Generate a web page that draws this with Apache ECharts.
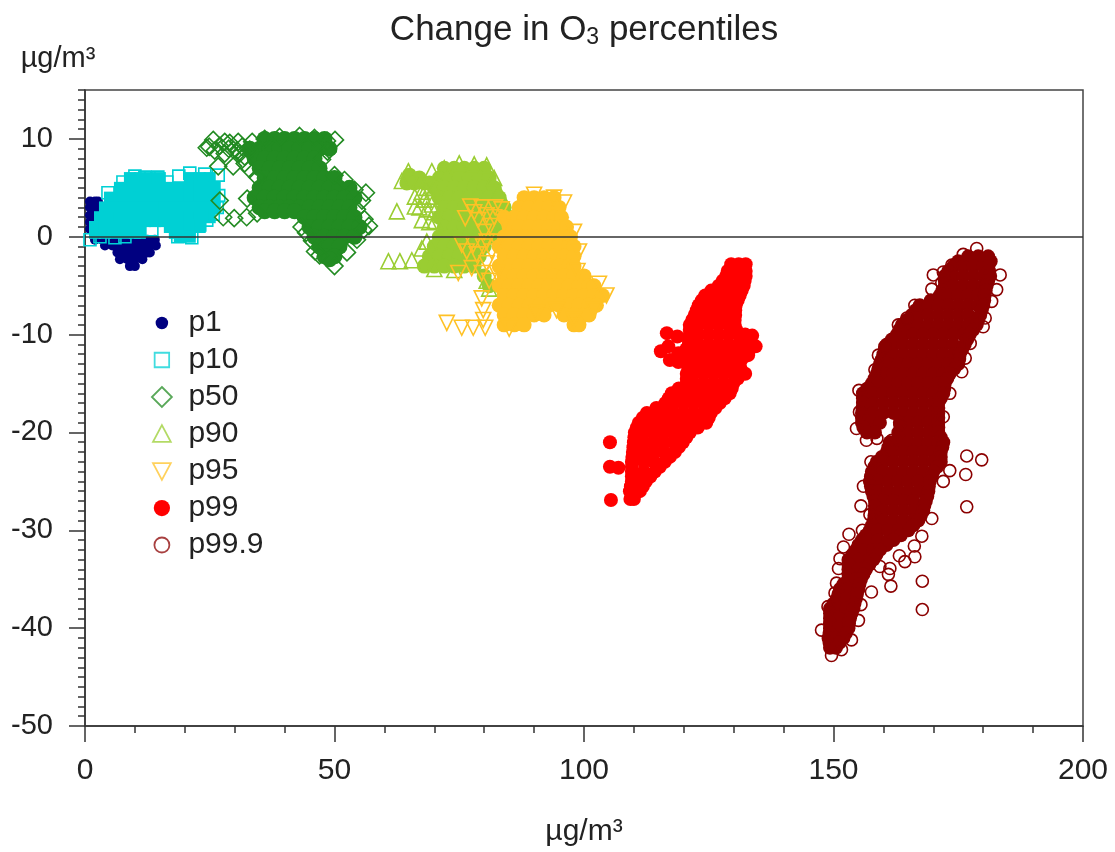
<!DOCTYPE html>
<html>
<head>
<meta charset="utf-8">
<title>Change in O3 percentiles</title>
<script src="https://cdn.jsdelivr.net/npm/echarts@6/dist/echarts.min.js"></script>
<style>
  html, body { margin: 0; padding: 0; background: #fff; }
  #chart { width: 1115px; height: 852px; filter: blur(0.5px); }
</style>
</head>
<body>
<div id="chart"></div>
<script>
// values; the solid parts of each cloud are listed as rows [y, [x, x, ...]]
const yTickValues = [-50, -40, -30, -20, -10, 0, 10];

const p1Rows = [
  [3.6, [1, 2, 2.6]], [3, [1, 2, 3]], [2.2, [1, 2]], [1.5, [1, 1.5]], [0.8, [1]],
  [-0.3, [2, 3.5, 5, 6.5, 8, 9.5, 11, 12.5, 14]],
  [-0.9, [4, 5.5, 7, 8.5, 10, 11.5, 13, 14.2]],
  [-1.6, [6.5, 8, 9.5, 11, 12.5, 13]],
  [-2.3, [7, 8.5, 10, 11.5]],
  [-3, [9, 10]]
];

const p10Rows = [
  [6, [9, 11, 13, 15, 21, 23, 25]],
  [5, [7, 9, 11, 13, 15, 17, 19, 21, 23, 25, 26]],
  [4, [5, 7, 9, 11, 13, 15, 17, 19, 21, 23, 25, 26]],
  [3, [4, 6, 8, 10, 12, 14, 16, 18, 20, 22, 24, 26]],
  [2, [3, 5, 7, 9, 11, 13, 15, 17, 19, 21, 23, 25]],
  [1.6, [12, 14, 16]],
  [1, [2, 4, 6, 8, 10, 11, 17, 19, 21, 23]],
  [0.4, [2, 4, 6, 8, 10, 11, 18, 20, 21]],
  [0, [19, 21]]
];
const p10Edge = [
  [7.6, 5.6], [4.6, 4.5], [14.6, 6.1], [16.4, 5.6], [26.7, 6.3], [21.4, -0.1], [1, -0.3], [24.4, 1.7],
  [18.6, 0], [10, 6.2], [12, 6.1], [18.8, 6.2], [21, 6.5], [24, 6.4], [13.4, 0.7],
  [6, -0.1], [3, 0], [8, 0], [26.8, 4.2], [26.5, 3], [25.7, 2.3], [23, 1.2]
];

const p50Rows = [
  [10, [36, 38, 40, 42, 44, 46, 48]],
  [9, [33, 35, 37, 39, 41, 43, 45, 47, 49]],
  [8, [34, 36, 38, 40, 42, 44, 46]],
  [7, [35, 37, 39, 41, 43, 45, 47]],
  [6, [36, 38, 40, 42, 44, 46, 48, 50]],
  [5, [35, 37, 39, 41, 43, 45, 47, 49, 51, 53]],
  [4, [34, 36, 38, 40, 42, 44, 46, 48, 50, 52, 54]],
  [3, [35, 37, 39, 41, 43, 45, 47, 49, 51, 53]],
  [2.6, [36, 38, 40, 42]],
  [2, [44, 46, 48, 50, 52, 54]],
  [1, [45, 47, 49, 51, 53, 55]],
  [0, [46, 48, 50, 52, 54]],
  [-1, [47, 49, 51]],
  [-2, [48, 50]],
  [-2.3, [49]]
];
const p50Edge = [
  [24.4, 9.1], [25.7, 9.9], [28, 9.7], [30.7, 9.7], [29.7, 8.9], [32, 8.2], [26.7, 7.2], [29.7, 7.2],
  [32, 7.5], [27, 3.7], [27.7, 2], [29.9, 1.9], [32.4, 2], [32.5, 3.9], [34.5, 2.4], [50.1, 9.9],
  [56.3, 4.5], [56.9, 1.1], [46.1, -1.5], [43.4, 1], [24.9, 9.2], [27, 9.3], [28.8, 9], [30.5, 8.8],
  [31.5, 9.2], [29, 9.6], [33.5, 9.7], [36, 10], [39, 10.2], [43, 10.3], [46, 10.1], [48.5, 9.8],
  [48.6, 8.7], [47.5, 7.9], [50, 6.3], [52, 5.8], [54, 4.8], [55.5, 3.7], [54.5, 2.8], [56, 1.8],
  [55.8, 0.7], [54.5, -0.3], [52.5, -1.6], [50, -3], [47, -1.9], [45.5, -0.4], [44.3, 0.4], [34.5, 6.1],
  [26, 8.8], [28, 8.5], [31, 8.5], [33, 8.9], [33, 6.9]
];

const p90Rows = [
  [7, [72, 74, 76, 78, 80]],
  [6.3, [65]],
  [6, [67, 71, 73, 75, 77, 79, 81]],
  [5.5, [64.5, 66, 68, 69]],
  [5, [70, 72, 74, 76, 78, 80, 82]],
  [4, [71, 73, 75, 77, 79, 81, 83]],
  [3, [72, 74, 76, 78, 80, 82, 84]],
  [2, [71, 73, 75, 77, 79, 81, 83, 85]],
  [1, [72, 74, 76, 78, 80, 82, 84]],
  [0, [71, 73, 75, 77, 79, 81, 83]],
  [-1, [70, 72, 74, 76, 78, 80]],
  [-2, [69, 71, 73, 75, 77, 79]],
  [-3, [68, 70, 72, 74, 76, 78]],
  [-4, [80]],
  [-5, [81]]
];
const p90Edge = [
  [60.8, -2.5], [63.1, -2.5], [65.5, -2.4], [62.5, 2.6], [64.8, 6.7], [69.5, 6.7], [67.1, 5.8], [63.5, 5.7],
  [66.1, 4.1], [69.1, 4.1], [66.1, 3.1], [67.5, 1.7], [69.5, 3.3], [70.1, 1.6], [68.5, -0.5], [67.5, -1.2],
  [72, 7], [75, 7.5], [78, 7.4], [80.5, 7.3], [82, 6], [83, 4.5], [84, 3], [70, -3.3], [74, -3.4], [81, -5.3], [80.5, -4.5],
  [67.5, 4.6], [68.5, 5], [70, 5], [68, 3.8], [70, 2.5], [68.5, 2.8], [67, 3], [69, 1.5]
];

const p95Rows = [
  [4, [88, 90, 92, 94]],
  [3, [87, 89, 91, 93, 95]],
  [2, [84, 86, 88, 90, 92, 94, 95.5]],
  [1, [85, 87, 89, 91, 93, 95, 96.5]],
  [0, [84, 86, 88, 90, 92, 94, 96, 97.3]],
  [-1, [83, 85, 87, 89, 91, 93, 95, 97, 98]],
  [-2, [84, 86, 88, 90, 92, 94, 96, 98]],
  [-3, [83, 85, 87, 89, 91, 93, 95, 97, 98]],
  [-4, [84, 86, 88, 90, 92, 94, 96, 98, 100]],
  [-5, [83, 85, 87, 89, 91, 93, 95, 97, 99, 101, 102]],
  [-6, [84, 86, 88, 90, 92, 94, 96, 98, 100, 102, 103.7]],
  [-7, [83, 85, 87, 89, 91, 93, 95, 97, 99, 101, 102.5]],
  [-8, [84, 86, 88, 90, 92, 96, 98, 100, 101]],
  [-9, [84, 86, 88, 98, 99]]
];
const p95Edge = [
  [76.2, 1.9], [77.2, 3.1], [79.5, 3], [82.2, 3], [83.5, 2.8], [78.8, 1.7], [81.2, 1.1], [75.5, -0.8],
  [77.8, -0.8], [79.8, -1], [81.5, -1.5], [80.5, -2.7], [82.5, -3.7], [74.8, -3.7], [77.5, -3.2],
  [79.5, -6.3], [79.8, -7.5], [79.8, -8.5], [72.5, -8.8], [75.5, -9.3], [77.8, -9.3], [80.2, -9.3],
  [90, 4.3], [94, 4], [96, 3.5], [98, 0.5], [99, -1.5], [98.7, -3.5], [103, -4.8], [104.5, -6],
  [102, -7.5], [98, -8.5], [94.5, -7.5], [90.5, -7.8], [85, -9.4],
  [78, 2.5], [80.5, 2.2], [82, 2], [84, 1.5], [76.5, -1.5], [78.5, -1.8], [80.5, -0.5], [82.5, -0.5],
  [79.5, -3.7], [81, -4.5], [80, 0.5]
];

const p99Rows = [
  [-2.8, [129.5, 131, 132.4]],
  [-3.5, [128.8, 132.4]],
  [-4, [128.5, 130.5, 132.4]],
  [-4.5, [127.8, 132.2]],
  [-5, [127, 129, 131, 132]],
  [-5.5, [125.5, 131.6]],
  [-6, [124.3, 126, 128, 130, 131.2]],
  [-6.5, [123.6, 130.8]],
  [-7, [123, 125, 127, 129, 130.4]],
  [-7.5, [122.6, 130.3]],
  [-8, [122.2, 124, 126, 128, 130.3]],
  [-8.5, [121.7, 130.2]],
  [-9, [121.2, 123, 125, 127, 129, 130.2]],
  [-9.5, [121.2, 130.5]],
  [-10, [121.2, 123, 125, 127, 129, 131, 132.3]],
  [-10.5, [121, 132.5]],
  [-11, [121, 123, 125, 127, 129, 131, 133]],
  [-11.5, [120.5, 132.5]],
  [-12, [120, 122, 124, 126, 128, 130, 132]],
  [-12.5, [120.6, 131.6]],
  [-13, [121.2, 123, 125, 127, 129, 131.2]],
  [-13.5, [120.9, 131.4]],
  [-14, [120.6, 122, 124, 126, 128, 130, 131.5, 132.3]],
  [-14.5, [120.6, 130.8]],
  [-15, [120.6, 122, 124, 126, 128, 129.9]],
  [-15.5, [119, 129.6]],
  [-16, [117.6, 119, 121, 123, 125, 127, 129.2]],
  [-16.5, [117, 128.2]],
  [-17, [116.3, 118, 120, 122, 124, 126, 127.2]],
  [-17.5, [114.5, 126.3]],
  [-18, [112.6, 114, 116, 118, 120, 122, 124, 125.4]],
  [-18.5, [111.8, 125]],
  [-19, [111, 113, 115, 117, 119, 121, 123, 124.5]],
  [-19.5, [110.6, 122.8]],
  [-20, [110.2, 112, 114, 116, 118, 120, 121.2]],
  [-20.5, [110.1, 120.5]],
  [-21, [110, 112, 114, 116, 118, 119.8]],
  [-21.5, [109.9, 119]],
  [-22, [109.8, 112, 114, 116, 118.2]],
  [-22.5, [109.7, 117.2]],
  [-23, [109.6, 112, 114, 116.2]],
  [-23.5, [109.6, 115.2]],
  [-24, [109.6, 112, 114.2]],
  [-24.5, [109.6, 113.3]],
  [-25, [109.6, 111, 112.4]],
  [-25.5, [109.4, 111.8]],
  [-26, [109.2, 111.2]],
  [-26.8, [109.3, 110]]
];
const p99Extra = [
  [105.2, -21], [105.2, -23.5], [106.9, -23.6], [105.4, -26.9],
  [116.6, -9.85], [118.7, -10.2], [115.4, -11.7], [117.2, -12.6], [116.9, -11.2], [118.9, -11.9], [118.9, -12.8],
  [133.7, -10.1], [134.4, -11.2], [132.9, -12.1]
];

const p999Rows = [
  [-2, [177, 179, 181]],
  [-2.5, [175, 181.5]],
  [-3, [174, 176, 178, 180, 181]],
  [-3.5, [173, 181.2]],
  [-4, [172.3, 174, 176, 178, 180, 181.4]],
  [-4.5, [172.3, 181]],
  [-5, [172.3, 174, 176, 178, 180, 180.7]],
  [-5.5, [171.8, 180.5]],
  [-6, [171.3, 173, 175, 177, 179, 180.3]],
  [-6.5, [169.5, 180.2]],
  [-7, [167.3, 169, 171, 173, 175, 177, 179, 180]],
  [-7.5, [166.5, 179.7]],
  [-8, [165.7, 167, 169, 171, 173, 175, 177, 179.4]],
  [-8.5, [164.7, 179]],
  [-9, [163.7, 165, 167, 169, 171, 173, 175, 177, 178.7]],
  [-9.5, [163.2, 178]],
  [-10, [162.7, 164, 166, 168, 170, 172, 174, 176, 177.3]],
  [-10.5, [161.7, 176.8]],
  [-11, [160.7, 162, 164, 166, 168, 170, 172, 174, 176.3]],
  [-11.5, [160.3, 175.8]],
  [-12, [160, 162, 164, 166, 168, 170, 172, 174, 175.3]],
  [-12.5, [159.7, 175.2]],
  [-13, [159.3, 161, 163, 165, 167, 169, 171, 173, 175]],
  [-13.5, [159, 174.2]],
  [-14, [158.7, 160, 162, 164, 166, 168, 170, 172, 173.3]],
  [-14.5, [158.2, 172.8]],
  [-15, [157.7, 159, 161, 163, 165, 167, 169, 171, 172.3]],
  [-15.5, [156.8, 172.2]],
  [-16, [155.9, 158, 160, 162, 164, 166, 168, 170, 172]],
  [-16.5, [155.9, 171.5]],
  [-17, [155.9, 158, 160, 162, 164, 166, 168, 170, 171]],
  [-17.5, [155.8, 171]],
  [-18, [155.7, 158, 160, 162, 164, 166, 168, 170, 171]],
  [-18.5, [155.7, 171]],
  [-19, [155.7, 157.5, 159.3, 163.3, 165, 167, 169, 171]],
  [-19.5, [156, 171]],
  [-20, [156.7, 158.3, 163, 165, 167, 169, 171]],
  [-20.5, [163, 171.5]],
  [-21, [161.3, 163, 165, 167, 169, 171, 172]],
  [-21.5, [161, 171.8]],
  [-22, [160.7, 162, 164, 166, 168, 170, 171.5]],
  [-22.5, [159.7, 171.5]],
  [-23, [158.7, 160, 162, 164, 166, 168, 170, 171.5]],
  [-23.5, [158.2, 170.8]],
  [-24, [157.7, 160, 162, 164, 166, 168, 170]],
  [-24.5, [157.5, 169.7]],
  [-25, [157.3, 159, 161, 163, 165, 167, 169.3]],
  [-25.5, [157.5, 169.1]],
  [-26, [157.7, 159, 161, 163, 165, 167, 169]],
  [-26.5, [158, 168.8]],
  [-27, [158.3, 160, 162, 164, 166, 168.5]],
  [-27.5, [158.3, 168.2]],
  [-28, [158.3, 160, 162, 164, 166, 168]],
  [-28.5, [158.2, 167.5]],
  [-29, [158.1, 160, 162, 164, 166, 167]],
  [-29.5, [157.7, 166]],
  [-30, [157.3, 159, 161, 163, 165]],
  [-30.5, [156.5, 163.5]],
  [-31, [155.7, 157, 159, 161, 162]],
  [-31.5, [155, 160.6]],
  [-32, [154.5, 156, 158, 159.3]],
  [-32.5, [153.8, 158.6]],
  [-33, [153, 155, 157, 158]],
  [-33.5, [153, 157.2]],
  [-34, [153, 155, 156.5]],
  [-34.5, [153, 156]],
  [-35, [153, 154.5, 155.5]],
  [-35.5, [152, 155.2]],
  [-36, [151.3, 153, 155]],
  [-36.5, [151, 154.7]],
  [-37, [150.7, 152.5, 154.5]],
  [-37.5, [150, 154.2]],
  [-38, [149.3, 151, 152.5, 154]],
  [-38.5, [149.3, 153.6]],
  [-39, [149.3, 151, 153.3]],
  [-39.5, [149.3, 153.1]],
  [-40, [149.3, 151, 153]],
  [-40.5, [149.2, 152.5]],
  [-41, [149, 150.5, 152]],
  [-41.5, [149.2, 151.2]],
  [-42, [149.3, 150.5]]
];
const p999Edge = [
  [170, -3.9], [169.7, -5.35], [155.1, -15.7], [155.2, -17.9], [154.6, -19.6], [156.6, -20.8], [158.7, -20.6],
  [157.5, -23], [176.7, -22.4], [179.7, -22.8], [172, -3.6], [171.7, -4.7], [183.4, -3.9], [182.7, -5.4],
  [181.7, -6.6], [180.4, -8.3], [180, -9.2], [177.4, -10.9], [176.4, -12.4], [175.7, -13.8], [173.3, -16],
  [172, -18.4], [166.3, -7], [164.7, -8.3], [163, -9], [160.3, -11.2], [159, -12.1], [158.3, -13.6],
  [163.3, -19.2], [161.7, -20.8], [178.7, -1.2], [176, -1.8], [173.7, -2.9],
  [176.5, -24.3], [176.7, -27.6], [167.8, -35.2], [167.8, -38.1], [173.3, -23.9], [172, -25], [169.7, -28.8],
  [167.7, -30.6], [166.2, -31.6], [166.3, -32.7], [164.3, -33.2], [163.2, -32.6], [161.3, -33.9], [161, -34.5],
  [161.5, -35.7], [157.6, -36.3], [155.5, -37.6], [155, -39.2], [153.6, -41.2], [151.6, -42.2], [149.6, -42.8],
  [147.6, -40.2], [148.9, -37.8], [150.3, -36.4], [150.6, -35.4], [151, -33.9], [151.3, -32.9], [152, -31.7],
  [153.1, -30.4], [155.8, -30], [155.5, -27.5], [157.3, -28.4], [156, -25.5], [159.3, -33.7]
];

const unpack = rows => rows.flatMap(([y, xs]) => xs.map(x => [x, y]));

// name, colour, symbol, size, hollow points, solid points
const groups = [
  { name: 'p1', color: '#000080', symbol: 'circle', size: 10, edge: [], solid: unpack(p1Rows),
    icon: 'path://M0 0M16 16M8 3A5 5 0 1 1 8 13A5 5 0 1 1 8 3Z', filled: true },
  { name: 'p10', color: '#00d0d4', symbol: 'rect', size: 12, edge: p10Edge, solid: unpack(p10Rows),
    icon: 'path://M0 0M16 16M2.2 2.2L13.8 2.2L13.8 13.8L2.2 13.8Z' },
  { name: 'p50', color: '#228b22', symbol: 'diamond', size: 17, coreSymbol: 'circle', coreSize: 16, edge: p50Edge, solid: unpack(p50Rows),
    icon: 'path://M0 0M18 18M9 0L18 9L9 18L0 9Z' },
  { name: 'p90', color: '#9acd32', symbol: 'triangle', size: 15, coreSymbol: 'circle', coreSize: 15, edge: p90Edge, solid: unpack(p90Rows),
    icon: 'path://M0 0M18 18M9 1L17 16L1 16Z' },
  { name: 'p95', color: '#ffc125', symbol: 'triangle', rotate: 180, size: 15, coreSymbol: 'circle', coreSize: 15, edge: p95Edge, solid: unpack(p95Rows),
    icon: 'path://M0 0M18 18M1 2L17 2L9 17Z' },
  { name: 'p99', color: '#ff0000', symbol: 'circle', size: 14, edge: [], solid: unpack(p99Rows).concat(p99Extra),
    icon: 'path://M0 0M16 16M8 1.5A6.5 6.5 0 1 1 8 14.5A6.5 6.5 0 1 1 8 1.5Z', filled: true },
  { name: 'p99.9', color: '#8b0000', symbol: 'circle', size: 12, edge: p999Edge, solid: unpack(p999Rows), coreSize: 14,
    icon: 'path://M0 0M16 16M8 2A6 6 0 1 1 8 14A6 6 0 1 1 8 2Z' }
];

const series = [];
groups.forEach(g => {
  series.push({
    name: g.filled ? g.name : g.name + ' solid',
    type: 'scatter',
    symbol: g.coreSymbol || g.symbol,
    symbolRotate: g.coreSymbol ? 0 : (g.rotate || 0),
    symbolSize: g.coreSize || g.size,
    itemStyle: { color: g.color, opacity: 1 },
    data: g.solid,
    clip: true
  });
  if (!g.filled) {
    series.push({
      name: g.name,
      type: 'scatter',
      symbol: g.symbol,
      symbolRotate: g.rotate || 0,
      symbolSize: g.size,
      itemStyle: { color: 'transparent', borderColor: g.color, borderWidth: 1.6, opacity: 1 },
      data: g.edge,
      clip: true
    });
  }
});

// zero line sits on top of every cloud
series[series.length - 1].markLine = {
  silent: true,
  symbol: 'none',
  animation: false,
  label: { show: false },
  lineStyle: { color: '#333', width: 1.5, type: 'solid' },
  data: [{ yAxis: 0 }]
};

const font = '"Liberation Sans", Arial, sans-serif';
const chart = echarts.init(document.getElementById('chart'));
chart.setOption({
  animation: false,
  backgroundColor: '#fff',
  title: {
    text: 'Change in O{sub|3} percentiles',
    left: 579,
    top: 7,
    textAlign: 'center',
    textStyle: {
      fontFamily: font, fontSize: 35, fontWeight: 'normal', color: '#222',
      rich: { sub: { fontFamily: font, fontSize: 23, color: '#222', verticalAlign: 'bottom', padding: [14, 0, 0, 0] } }
    }
  },
  legend: {
    orient: 'vertical',
    left: 146,
    top: 303,
    itemWidth: 43,
    itemHeight: 20,
    itemGap: 7,
    selectedMode: false,
    textStyle: { fontFamily: font, fontSize: 30, color: '#222' },
    data: groups.map(g => ({
      name: g.name,
      icon: g.icon,
      itemStyle: g.filled
        ? { color: g.color, borderWidth: 0 }
        : { color: 'transparent', borderColor: g.color, borderWidth: 1.8, opacity: 0.75 }
    }))
  },
  grid: { left: 85, top: 90, width: 998, height: 636, show: true, borderColor: '#444', borderWidth: 1.5, backgroundColor: 'transparent' },
  xAxis: {
    type: 'value',
    min: 0,
    max: 200,
    interval: 50,
    name: 'µg/m³',
    nameLocation: 'middle',
    nameGap: 91,
    nameTextStyle: { fontFamily: font, fontSize: 30, color: '#222' },
    axisLine: { onZero: false, lineStyle: { color: '#333', width: 1.5 } },
    axisTick: { length: 16, lineStyle: { color: '#333', width: 1.5 } },
    minorTick: { show: true, splitNumber: 5, length: 7, lineStyle: { color: '#333', width: 1.5 } },
    splitLine: { show: false },
    minorSplitLine: { show: false },
    axisLabel: { fontFamily: font, fontSize: 30, color: '#222', margin: 30, showMinLabel: true, showMaxLabel: true }
  },
  yAxis: [
    {
      type: 'value',
      min: -50,
      max: 15,
      interval: 10,
      name: 'µg/m³',
      nameLocation: 'end',
      nameGap: 17,
      nameRotate: 0,
      nameTextStyle: { fontFamily: font, fontSize: 29, color: '#222', padding: [0, 54, 0, 0] },
      axisLine: { onZero: false, lineStyle: { color: '#333', width: 1.5 } },
      axisTick: { length: 16, customValues: yTickValues, lineStyle: { color: '#333', width: 1.5 } },
      splitLine: { show: false },
      axisLabel: { fontFamily: font, fontSize: 29, color: '#222', margin: 32, customValues: yTickValues }
    },
    {
      // finer ticks every 1 on a second axis, so the top end at 15 keeps the same spacing
      type: 'value',
      min: -50,
      max: 15,
      interval: 1,
      position: 'left',
      axisLine: { show: false, onZero: false },
      axisTick: { length: 7, lineStyle: { color: '#333', width: 1.5 } },
      axisLabel: { show: false },
      splitLine: { show: false }
    }
  ],
  series: series
});
window.addEventListener('resize', () => chart.resize());
</script>
</body>
</html>
